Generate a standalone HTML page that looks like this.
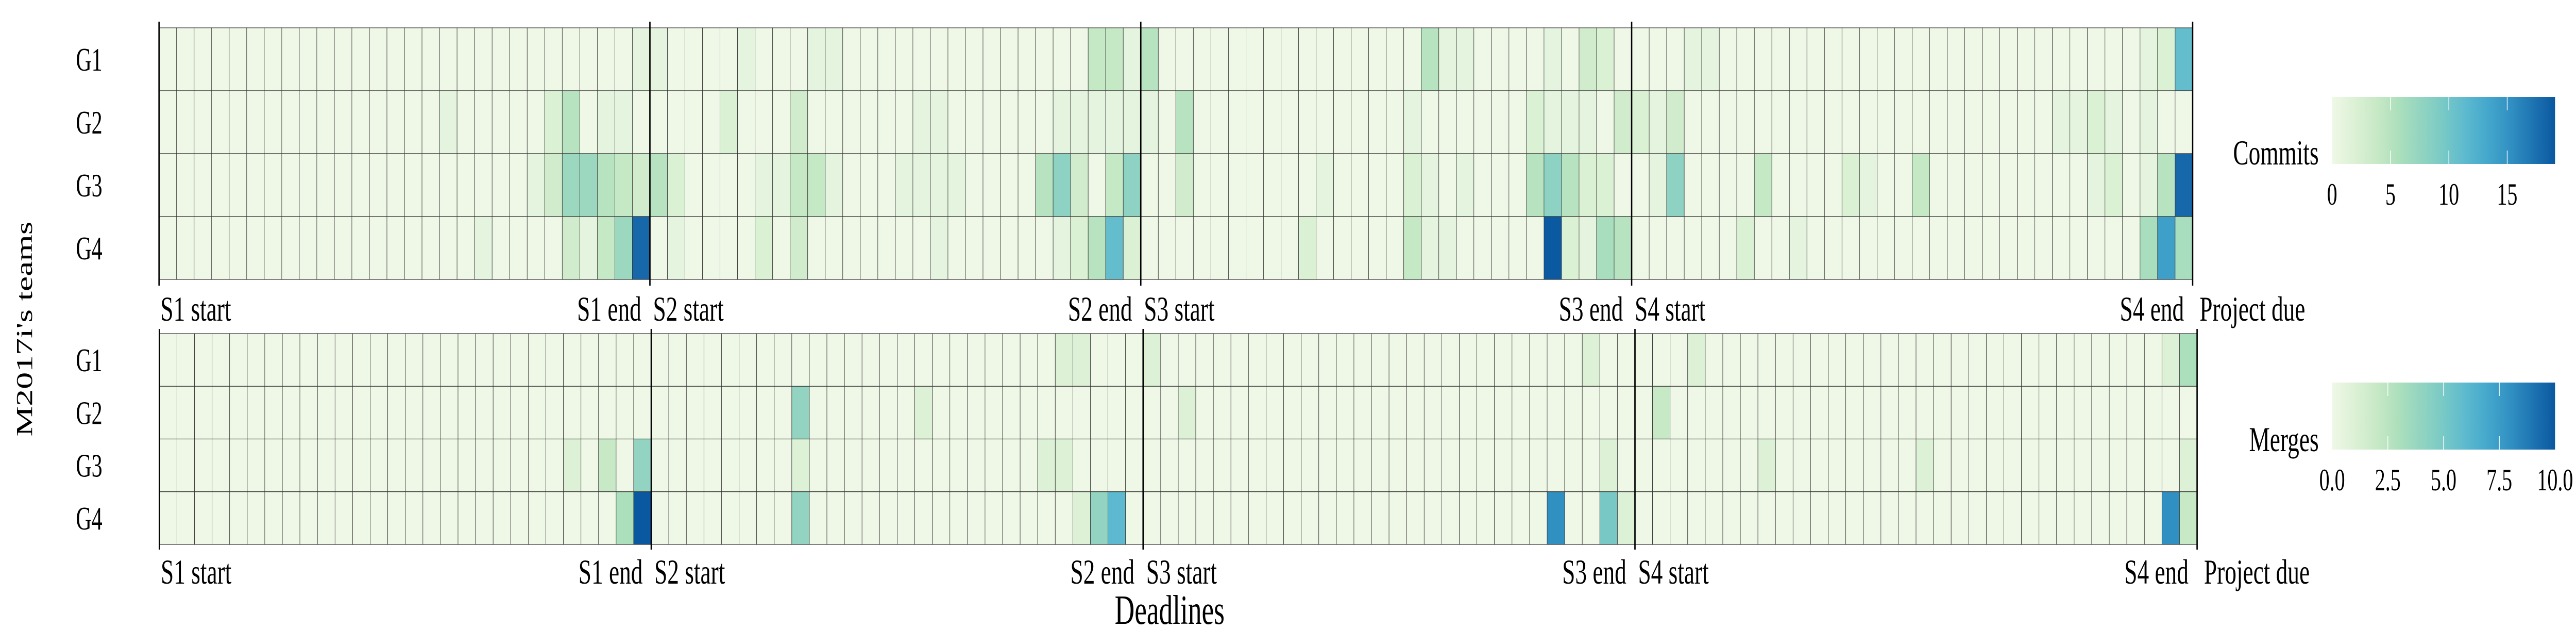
<!DOCTYPE html>
<html><head><meta charset="utf-8">
<style>
html,body{margin:0;padding:0;background:#fff;overflow:hidden;width:100%;height:100%;}
svg{display:block;width:100vw;height:100vh;}
text{font-family:"Liberation Serif","DejaVu Serif",serif;fill:#000;}
</style></head>
<body>
<svg id="chart" viewBox="0 0 7499 1220" preserveAspectRatio="none" xmlns="http://www.w3.org/2000/svg">
  <defs>
    <linearGradient id="cbgrad" x1="0" x2="1" y1="0" y2="0">
      <stop offset="0" stop-color="#eff8e7"/>
      <stop offset="0.1" stop-color="#dcf1d5"/>
      <stop offset="0.2" stop-color="#c8e9c6"/>
      <stop offset="0.3" stop-color="#acdfbc"/>
      <stop offset="0.4" stop-color="#92d4c1"/>
      <stop offset="0.5" stop-color="#78c9c6"/>
      <stop offset="0.6" stop-color="#5cb9cf"/>
      <stop offset="0.7" stop-color="#44a7cc"/>
      <stop offset="0.8" stop-color="#3190c2"/>
      <stop offset="0.9" stop-color="#1e74b2"/>
      <stop offset="1" stop-color="#0a58a0"/>
    </linearGradient>
  </defs>
  <g id="top-panel"></g>
  <g id="bottom-panel"></g>
  <text x="0" y="0" font-size="66" text-anchor="middle" transform="translate(93,638) rotate(-90)">M2017i's teams</text>
  <text x="3405" y="1210" font-size="80" text-anchor="middle">Deadlines</text>
</svg>
<script>
// ---- data ----
const teams = ["G1","G2","G3","G4"];
const nDays = 116;
const deadlineLabels = ["S1 start","S1 end","S2 start","S2 end","S3 start","S3 end","S4 start","S4 end","Project due"];
const sectionBounds = [0, 28, 56, 84, 116];
// commits: [dayIndex, value] pairs (zero elsewhere)
const commitsG1 = [[27,1],[28,1],[33,1],[37,1],[38,1],[53,4],[54,4],[55,1],[56,5],[72,5],[73,1],[74,1],[79,1],[81,3],[82,2],[87,1],[88,1],[113,1],[114,2],[115,11]];
const commitsG2 = [[16,1],[22,2],[23,5],[25,1],[26,1],[32,2],[36,3],[43,1],[44,1],[51,1],[52,1],[53,1],[54,1],[55,1],[56,1],[58,5],[71,1],[78,2],[79,1],[80,1],[81,1],[83,3],[84,2],[85,1],[86,3],[108,1],[109,1],[110,2],[111,1],[113,1]];
const commitsG3 = [[21,1],[22,3],[23,7],[24,7],[25,5],[26,4],[27,3],[28,5],[29,2],[34,1],[35,1],[36,4],[37,4],[38,1],[42,1],[43,1],[44,1],[45,1],[50,5],[51,8],[52,3],[54,4],[55,8],[58,3],[66,1],[71,2],[72,1],[74,1],[78,5],[79,8],[80,5],[81,2],[82,2],[85,1],[86,8],[91,4],[96,2],[97,1],[100,4],[110,1],[111,2],[113,1],[114,5],[115,18]];
const commitsG4 = [[18,1],[23,3],[24,1],[25,4],[26,7],[27,18],[29,1],[34,2],[36,3],[44,1],[51,1],[52,2],[53,5],[54,11],[55,2],[65,2],[71,4],[72,1],[73,1],[79,19],[80,2],[81,1],[82,6],[83,5],[90,2],[93,1],[113,6],[114,14],[115,6]];
// merges: [dayIndex, value] pairs
const mergesG1 = [[51,1],[52,1],[56,1],[81,1],[87,1],[114,1],[115,3]];
const mergesG2 = [[36,4],[43,1],[58,1],[85,2]];
const mergesG3 = [[23,1],[25,2],[27,4],[36,1],[50,1],[51,1],[82,1],[91,1],[100,1],[115,1]];
const mergesG4 = [[26,3],[27,10],[36,4],[52,1],[53,4],[54,6],[79,8],[82,5],[83,1],[114,8],[115,2]];
const commitTicks = [0,5,10,15];
const mergeTicks = ["0.0","2.5","5.0","7.5","10.0"];
const commitMax = 19.1;
const mergeMax = 10;

// ---- helpers ----
const NS = "http://www.w3.org/2000/svg";
const stops = [[0,[0xef,0xf8,0xe7]],[0.1,[0xdc,0xf1,0xd5]],[0.2,[0xc8,0xe9,0xc6]],[0.3,[0xac,0xdf,0xbc]],[0.4,[0x92,0xd4,0xc1]],[0.5,[0x78,0xc9,0xc6]],[0.6,[0x5c,0xb9,0xcf]],[0.7,[0x44,0xa7,0xcc]],[0.8,[0x31,0x90,0xc2]],[0.9,[0x1e,0x74,0xb2]],[1,[0x0a,0x58,0xa0]]];
function cmap(t){
  t=Math.max(0,Math.min(1,t));
  for(let i=1;i<stops.length;i++){
    if(t<=stops[i][0]){
      const a=stops[i-1],b=stops[i],f=(t-a[0])/(b[0]-a[0]);
      const c=a[1].map((v,k)=>Math.round(v+(b[1][k]-v)*f));
      return "rgb("+c.join(",")+")";
    }
  }
  return "rgb(10,88,160)";
}
function mk(tag, attrs, parent){
  const e=document.createElementNS(NS,tag);
  for(const k in attrs) e.setAttribute(k,attrs[k]);
  parent.appendChild(e);
  return e;
}
function dense(pairs){
  const a=new Array(nDays).fill(0);
  pairs.forEach(p=>{a[p[0]]=p[1];});
  return a;
}

function drawPanel(g, rows, vmax, x0, x1, y0, y1, lineTop, lineBot, labelY, kind){
  const cw=(x1-x0)/nDays, rh=(y1-y0)/teams.length;
  const xs = i => x0 + i*cw;
  const ys = r => y0 + r*rh;
  rows.forEach((row,r)=>{
    const vals=dense(row);
    vals.forEach((v,i)=>{
      const c=mk("rect",{x:xs(i),y:ys(r),width:cw,height:rh,fill:cmap(v/vmax),stroke:"#333","stroke-width":"1.2"},g);
      
      
    });
    const t=mk("text",{x:298,y:ys(r)+rh/2+22,"font-size":"63","text-anchor":"end"},g);
    
    
    t.textContent=teams[r];
  });
  sectionBounds.forEach(b=>{
    const l=mk("line",{x1:xs(b),x2:xs(b),y1:lineTop,y2:lineBot,stroke:"#000","stroke-width":"4"},g);
    
    
  });
  deadlineLabels.forEach((lab,k)=>{
    let x,anchor;
    if(k===0){x=xs(0)+4;anchor="start";}
    else if(k===deadlineLabels.length-1){x=xs(nDays)+20;anchor="start";}
    else if(k%2===1){x=xs(sectionBounds[(k+1)/2])-25;anchor="end";}
    else {x=xs(sectionBounds[k/2])+9;anchor="start";}
    const t=mk("text",{x:x,y:labelY,"font-size":"68","text-anchor":anchor},g);
    
    
    t.textContent=lab;
  });
}

function drawColorbar(g, title, ticks, vmax, y0, y1, titleY, tickY){
  const bx0=6789, bx1=7438;
  const xs = v => bx0 + (v/vmax)*(bx1-bx0);
  const r=mk("rect",{x:bx0,y:y0,width:bx1-bx0,height:y1-y0,fill:"url(#cbgrad)"},g);
  
  
  ticks.forEach(tv=>{
    const v=parseFloat(tv);
    if(v>0 && v<vmax){
      mk("line",{x1:xs(v),x2:xs(v),y1:y0,y2:y0+26,stroke:"#fff","stroke-width":"2"},g);
      mk("line",{x1:xs(v),x2:xs(v),y1:y1-26,y2:y1,stroke:"#fff","stroke-width":"2"},g);
    }
    const t=mk("text",{x:xs(v),y:tickY,"font-size":"60","text-anchor":"middle"},g);
    
    
    t.textContent=String(tv);
  });
  const tt=mk("text",{x:6750,y:titleY,"font-size":"68","text-anchor":"end"},g);
  
  
  tt.textContent=title;
}

const topG=document.getElementById("top-panel");
const botG=document.getElementById("bottom-panel");
drawPanel(topG,[commitsG1,commitsG2,commitsG3,commitsG4],commitMax,463,6383,54,542,42,554,622,"commit");
drawPanel(botG,[mergesG1,mergesG2,mergesG3,mergesG4],mergeMax,464,6396,647,1056,638,1066,1132,"merge");
drawColorbar(topG,"Commits",commitTicks,commitMax,188,318,319,397);
drawColorbar(botG,"Merges",mergeTicks,mergeMax,742,872,875,951);
</script>
</body></html>
